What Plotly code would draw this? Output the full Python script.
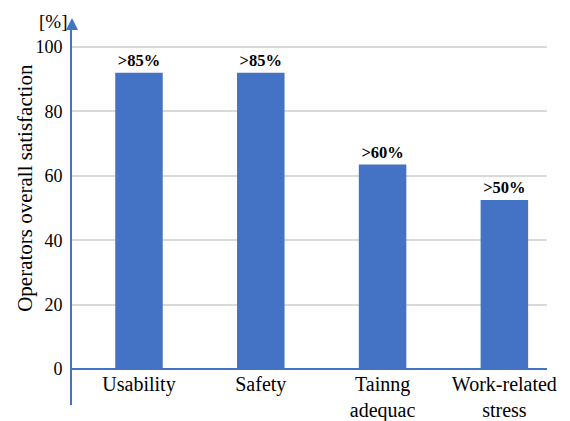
import plotly.graph_objects as go

categories = ["Usability", "Safety", "Tainng<br>adequac", "Work-related<br>stress"]
values = [92, 92, 63.5, 52.5]
labels = [">85%", ">85%", ">60%", ">50%"]
y_ticks = [0, 20, 40, 60, 80, 100]

BLUE = "#4472C4"
FONT = "Liberation Serif"
y_lo, y_hi = -11.2, 107.8

fig = go.Figure(go.Bar(
    x=categories, y=values, text=labels, textposition="outside",
    textfont=dict(family=FONT, size=16.5, color="black", weight="bold"),
    marker=dict(color=BLUE, line=dict(width=0)), width=0.39, cliponaxis=False,
))

fig.update_layout(
    width=554, height=413,
    margin=dict(l=64, r=15, t=14, b=16, autoexpand=False),
    plot_bgcolor="white", paper_bgcolor="white",
    font=dict(family=FONT, color="black"),
    showlegend=False,
    xaxis=dict(
        anchor="free", position=(0 - y_lo) / (y_hi - y_lo),
        showline=True, linecolor=BLUE, linewidth=2,
        ticks="", tickfont=dict(size=20, family=FONT), showgrid=False,
        range=[-0.55, 3.35], ticklabelstandoff=-3,
    ),
    yaxis=dict(
        range=[y_lo, y_hi], tickvals=y_ticks, showgrid=True, gridcolor="#d9d9d9", gridwidth=1.5,
        showline=True, linecolor=BLUE, linewidth=2, zeroline=False,
        ticks="", tickfont=dict(size=18, family=FONT), ticklabelstandoff=4,
    ),
)

fig.add_annotation(xref="paper", yref="paper", x=-0.099, y=0.567, text="Operators overall satisfaction",
                   textangle=-90, showarrow=False, xanchor="center", yanchor="middle",
                   font=dict(size=21, family=FONT))
fig.add_annotation(xref="paper", yref="paper", x=0, y=1, text="[%]", showarrow=False,
                   xanchor="right", yanchor="bottom", xshift=-3, yshift=-12,
                   font=dict(size=19, family=FONT))
fig.add_annotation(xref="paper", yref="paper", x=0, y=1, ax=0, ay=10, axref="pixel", ayref="pixel",
                   showarrow=True, arrowhead=2, arrowsize=1.2, arrowwidth=2, arrowcolor=BLUE, text="",
                   yshift=4)

fig.write_html("out.html")
